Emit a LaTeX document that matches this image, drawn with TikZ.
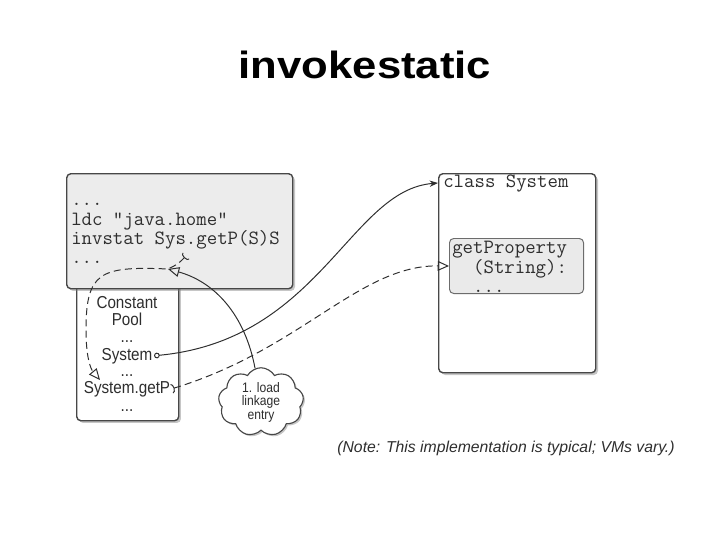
\documentclass[tikz,border=0pt]{standalone}
\usepackage{fontspec}
\setmainfont{Liberation Sans}
\newfontfamily\titlefont[FakeStretch=1.15]{Liberation Sans}
\newfontfamily\poolfont[FakeStretch=0.88]{Liberation Sans}
\usetikzlibrary{positioning,arrows.meta,shapes.symbols,shadows}
\definecolor{boxline}{HTML}{474747}
\definecolor{codetext}{HTML}{2E2E2E}
\definecolor{codefill}{HTML}{ECECEC}
\definecolor{methfill}{HTML}{EAEAEA}
\newcommand{\codesize}{\fontsize{14.4}{13.2}\selectfont}
\newcommand{\poolsize}{\fontsize{12.3}{14}\selectfont}
\tikzset{
  framebox/.style={draw=boxline, line width=1pt, rounded corners=3pt, anchor=north west, inner sep=0pt,
    drop shadow={shadow xshift=1.6pt, shadow yshift=-1.6pt, opacity=0.45}},
  codeline/.style={anchor=base west, inner sep=0pt, text=codetext, font=\ttfamily\codesize},
  poolline/.style={anchor=base, inner sep=0pt, text=codetext, font=\poolfont\poolsize},
  link/.style={line width=0.7pt, draw=codetext},
  dlink/.style={link, dash pattern=on 5pt off 3pt},
}

\begin{document}
\begin{tikzpicture}[x=0.025cm, y=-0.025cm]
  \useasboundingbox (0,0) rectangle (728,546);
  \node[anchor=base, font=\titlefont\bfseries\fontsize{27}{30}\selectfont] (title) at (365,78) {invokestatic};

  % boxes
  \node[framebox, fill=white, minimum width=2.55cm, minimum height=3.5cm] (pool) at (76,280) {};
  \node[framebox, fill=codefill, minimum width=5.65cm, minimum height=2.875cm] (code) at (66,173) {};
  \node[framebox, fill=white, minimum width=3.925cm, minimum height=4.975cm] (cls) at (438,173) {};
  \node[draw=boxline!80, line width=0.7pt, rounded corners=3pt, anchor=north west, inner sep=0pt,
    fill=methfill, minimum width=3.35cm, minimum height=1.375cm] (meth) at (449,238) {};

  % bytecode
  \node[codeline] (c1) at (71,205) {...};
  \node[codeline] (c2) at (71,225) {ldc "java.home"};
  \node[codeline] (c3) at (71,244) {invstat Sys.getP(S)S};
  \node[codeline] (c4) at (71,263) {...};

  % class System
  \node[codeline] (clsname) at (443,187) {class System};
  \node[codeline, anchor=north west, align=left] (mtext) at (452,241)
    {getProperty\\\ \ (String):\\\ \ ...};

  % constant pool
  \node[poolline] (p1) at (127,308) {Constant};
  \node[poolline] (p2) at (127,325) {Pool};
  \node[poolline] (p3) at (127,342) {...};
  \node[poolline] (sys) at (127,360) {System};
  \node[poolline] (p5) at (127,376) {...};
  \node[poolline] (getp) at (127,393) {System.getP};
  \node[poolline] (p7) at (127,411) {...};

  \node[cloud, cloud puffs=9, cloud puff arc=120, aspect=1.4, draw=boxline, fill=white, line width=0.8pt,
    minimum width=2.0cm, minimum height=1.45cm, inner sep=0pt, align=center, text=codetext,
    font=\poolfont\fontsize{9.8}{9.6}\selectfont,
    drop shadow={shadow xshift=1.2pt, shadow yshift=-1.2pt, opacity=0.45}] (load) at (261,402) {1. load\\linkage\\entry};

  \node[anchor=base, text=codetext, font=\itshape\fontsize{11.2}{13}\selectfont] (note) at (506,452)
    {(Note: This implementation is typical; VMs vary.)};

  \coordinate (sysref) at (186,256);
  \coordinate (linkpt) at (168,269);
  \coordinate (poolref) at (100,380);

  \draw[link, {Circle[open,length=4pt]}-{Stealth[length=6pt,width=4.5pt]}]
    ([xshift=1pt]sys.east) .. controls (320,340) and (350,190) .. (cls.west |- clsname.center);
  \draw[dlink, {Arc Barb[reversed,length=2pt,width=7pt]}-{Triangle[open,length=8pt,width=7pt]}]
    ([xshift=1pt]getp.east) .. controls (300,350) and (360,265) .. (meth.west);
  \draw[dlink, {Arc Barb[reversed,length=2pt,width=7pt]}-{Triangle[open,length=8pt,width=7pt]}]
    (sysref) .. controls (178,264) .. (linkpt) .. controls (100,266) and (86,272) .. (86,330)
    .. controls (86,355) and (90,368) .. (poolref);
  \draw[link, -{Triangle[open,length=8pt,width=7pt]}]
    (load.100) .. controls (245,315) and (215,282) .. (linkpt);
\end{tikzpicture}
\end{document}
